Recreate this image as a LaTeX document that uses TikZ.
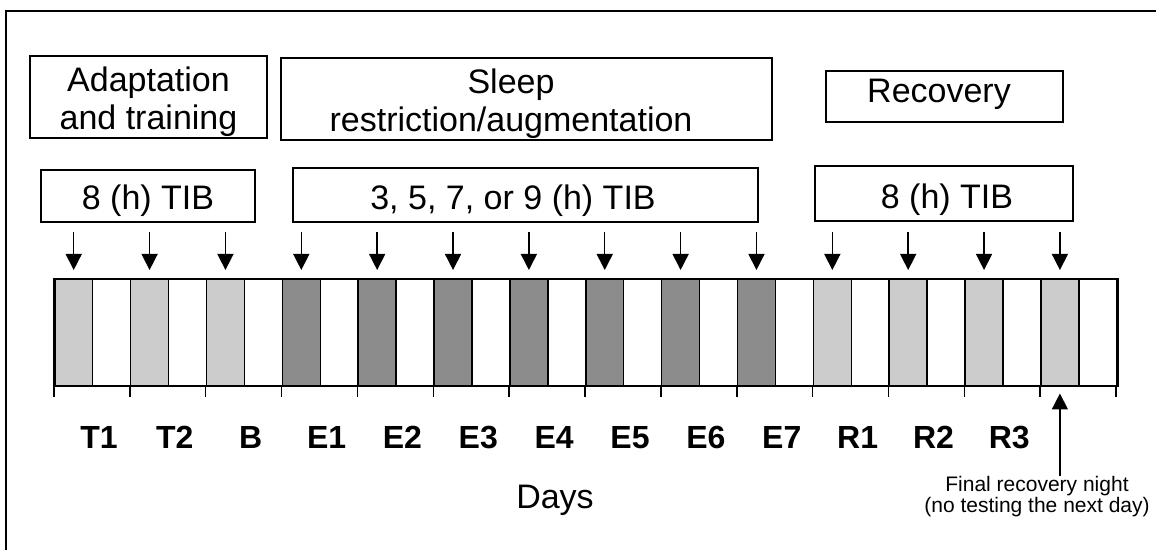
\documentclass[tikz,border=0pt]{standalone}
\usepackage{fontspec}
\setmainfont{Liberation Sans}
\usetikzlibrary{arrows.meta}
\definecolor{lightnight}{RGB}{204,204,204}
\definecolor{darknight}{RGB}{140,140,140}
\begin{document}
\begin{tikzpicture}[x=0.5pt,y=-0.5pt,font=\fontsize{17}{19}\selectfont]
		\tikzstyle{phase}=[draw,line width=0.75pt,inner sep=0pt,align=center]
		\tikzstyle{half}=[draw,line width=0.75pt,inner sep=0pt,anchor=north west,minimum width=18.97pt,minimum height=53pt]
		\tikzstyle{daylabel}=[anchor=base,font=\fontsize{16}{19}\selectfont\bfseries]
		\tikzstyle{tip}=[line width=0.75pt,-{Triangle[width=8pt,length=8pt]}]

		\useasboundingbox (0,0) rectangle (1156,550);
		\draw[line width=1pt] (6,550) -- (6,11) -- (1156,11);

		\node[phase,minimum width=118.5pt,minimum height=41pt](adapt) at (148.5,97){};
		\node[align=center](adapttext) at (148.5,102){Adaptation\\and training};
		\node[phase,minimum width=245.5pt,minimum height=41pt](restrict) at (526.5,99){};
		\node[align=center](restricttext) at (511,104){Sleep\\restriction/augmentation};
		\node[phase,minimum width=118.5pt,minimum height=25.5pt](recov) at (944.5,96.5){};
		\node[anchor=base](recovtext) at (939,103){Recovery};

		\node[phase,minimum width=107pt,minimum height=26pt](tibA) at (148,196){};
		\node[anchor=base](tibAtext) at (148,210){8 (h) TIB};
		\node[phase,minimum width=232.5pt,minimum height=27pt](tibE) at (525.5,195){};
		\node[anchor=base](tibEtext) at (513,210){3, 5, 7, or 9 (h) TIB};
		\node[phase,minimum width=129pt,minimum height=27.5pt](tibR) at (944,193.5){};
		\node[anchor=base](tibRtext) at (947,209){8 (h) TIB};

		\foreach \i in {0,...,13}{
			\ifnum\i<3 \def\shade{lightnight}\else\ifnum\i>9 \def\shade{lightnight}\else\def\shade{darknight}\fi\fi
			\node[half,fill=\shade](n\i) at ({54+75.86*\i},279){};
			\node[half,fill=white](d\i) at ({91.93+75.86*\i},279){};
			\draw[tip,shorten >=4.5pt] (n\i.north |- 0,232) -- (n\i.north);
		}
		\draw[line width=1pt] (n0.north west) rectangle (d13.south east);
		\foreach \i in {0,...,14}
			\draw[line width=0.75pt] ({54+75.86*\i},385) -- ({54+75.86*\i},397);

		\foreach \t [count=\i from 0] in {T1,T2,B,E1,E2,E3,E4,E5,E6,E7,R1,R2,R3}
			\node[daylabel](l\i) at ({99+75.86*\i},448){\t};
		\node[anchor=base](days) at (555,508){Days};

		\node[align=center,inner sep=0pt,anchor=north,font=\fontsize{10.5}{10.5}\selectfont](final) at (1037,476){Final recovery night\\(no testing the next day)};
		\draw[tip,shorten >=3.5pt] (final.north -| n13.south) -- (n13.south);
	\end{tikzpicture}
\end{document}
